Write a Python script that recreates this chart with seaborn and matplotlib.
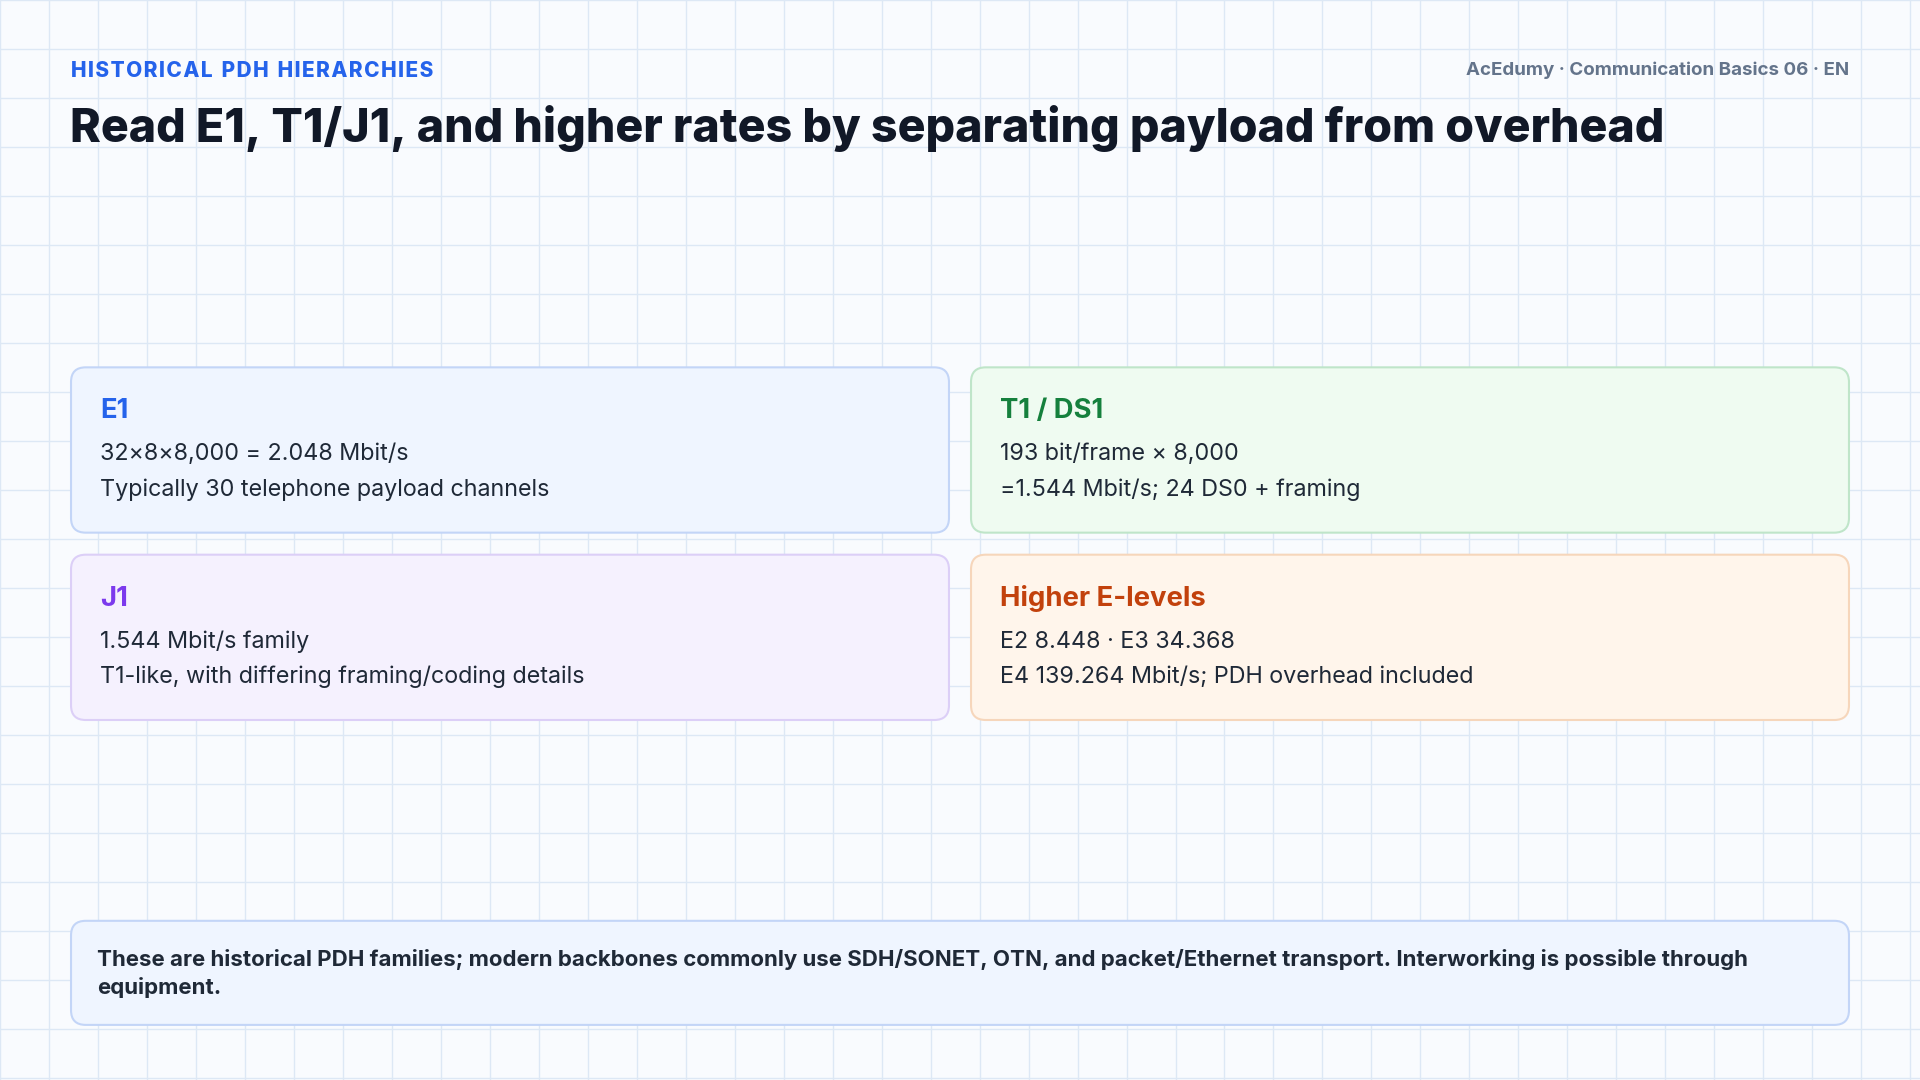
import matplotlib
matplotlib.use("Agg")
import matplotlib.pyplot as plt
from matplotlib.patches import FancyBboxPatch
import seaborn as sns

sns.set_style("white")
plt.rcParams['font.family'] = ['Inter', 'DejaVu Sans']

# content
kicker = "H I S T O R I C A L   P D H   H I E R A R C H I E S"
source = "AcEdumy · Communication Basics 06 · EN"
title = "Read E1, T1/J1, and higher rates by separating payload from overhead"
card_titles = ["E1", "T1 / DS1", "J1", "Higher E-levels"]
card_lines = [
    ["32×8×8,000 = 2.048 Mbit/s", "Typically 30 telephone payload channels"],
    ["193 bit/frame × 8,000", "=1.544 Mbit/s; 24 DS0 + framing"],
    ["1.544 Mbit/s family", "T1-like, with differing framing/coding details"],
    ["E2 8.448 · E3 34.368", "E4 139.264 Mbit/s; PDH overhead included"],
]
card_title_colors = ["#2563eb", "#15803d", "#7c3aed", "#c2410c"]
card_fill = ["#eff5ff", "#effbf1", "#f5f1fe", "#fff5eb"]
card_edge = ["#c3d5f7", "#bfe5c9", "#dccff7", "#f6d6bb"]
note = ("These are historical PDH families; modern backbones commonly use SDH/SONET, OTN, and packet/Ethernet transport. Interworking is possible through\n"
        "equipment.")

W, H = 1568, 882
fig = plt.figure(figsize=(19.2, 10.8), dpi=100)
fig.patch.set_facecolor("#f9fbfe")
ax = fig.add_axes([0, 0, 1, 1])
ax.set_xlim(0, W)
ax.set_ylim(H, 0)
ax.axis("off")

for gx in range(0, W + 1, 40):
    ax.axvline(gx, color="#dde8f5", lw=1, zorder=0)
for gy in range(0, H + 1, 40):
    ax.axhline(gy, color="#dde8f5", lw=1, zorder=0)

# kicker with loose letter spacing (thin spaces between letters)
ax.text(58, 58, kicker.replace(" ", "\u200a").replace("\u200a\u200a\u200a", "  "),
        color="#2563eb", fontsize=15, fontweight="heavy", va="center")
ax.text(1510, 57, source, color="#64748b", fontsize=13.5, fontweight="bold", va="center", ha="right")
ax.text(57, 105, title, color="#111827", fontsize=33.5, fontweight="heavy", va="center")

boxes = [(58, 300), (793, 300), (58, 453), (793, 453)]
bw, bh = 717, 135
for i, (x, y) in enumerate(boxes):
    ax.add_patch(FancyBboxPatch((x, y), bw, bh, boxstyle="round,pad=0,rounding_size=12",
                                fc=card_fill[i], ec=card_edge[i], lw=1.5, zorder=2))
    ax.text(x + 24, y + 36, card_titles[i], color=card_title_colors[i], fontsize=19.8,
            fontweight="bold", va="center", zorder=3)
    for j, line in enumerate(card_lines[i]):
        ax.text(x + 24, y + 71 + j * 29, line, color="#1f2937", fontsize=16.8, va="center", zorder=3)

ax.add_patch(FancyBboxPatch((58, 752), 1452, 85, boxstyle="round,pad=0,rounding_size=12",
                            fc="#eff5ff", ec="#c3d5f7", lw=1.5, zorder=2))
ax.text(79, 795, note, color="#1f2937", fontsize=16, fontweight="bold", va="center",
        linespacing=1.4, zorder=3)

fig.savefig("out.png", dpi=100, facecolor=fig.get_facecolor())
